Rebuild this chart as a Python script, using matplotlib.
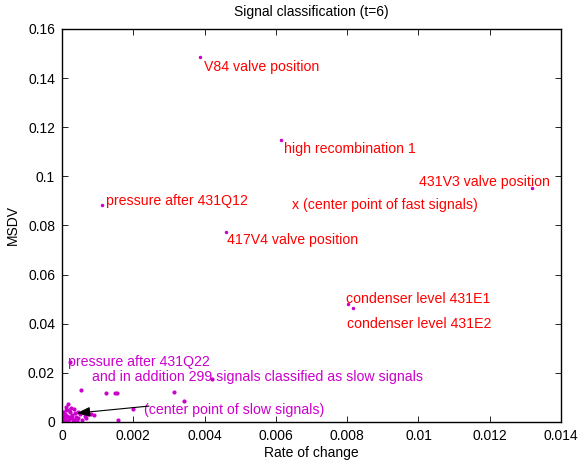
import matplotlib
matplotlib.use("Agg")
import matplotlib.pyplot as plt
from matplotlib.ticker import FuncFormatter

plt.rcParams['font.family'] = ['Liberation Sans', 'DejaVu Sans']

# fast (labelled) signals
fast_x = [0.00387, 0.00615, 0.00113, 0.00459, 0.01318, 0.00803, 0.00816]
fast_y = [0.1485, 0.1148, 0.0884, 0.0775, 0.0954, 0.0479, 0.0464]

# slow signals
slow_x = [0.00022, 0.0042, 0.00053, 0.00123, 0.00149, 0.00154, 0.00315, 0.00343, 0.00200, 0.00158,
          0.000168, 0.000253, 0.000337, 0.000112, 0.000224, 0.000084, 0.000028, 0.000140, 0.000281,
          0.000365, 0.000449, 0.000505, 0.000589, 0.000729, 0.000814, 0.000898, 0.000056, 0.000112,
          0.000196, 0.000281, 0.000393, 0.000028, 0.000168, 0.000337, 0.000449, 0.000645, 0.000673,
          0.0, 0.000084, 0.000224, 0.000309, 0.000421, 0.000561, 0.000112, 0.000196, 0.000028]
slow_y = [0.0245, 0.0174, 0.0130, 0.0117, 0.0119, 0.0119, 0.0121, 0.0086, 0.0053, 0.0008,
          0.00733, 0.00570, 0.00529, 0.00489, 0.00407, 0.00326, 0.00244, 0.00244, 0.00285,
          0.00366, 0.00407, 0.00326, 0.00407, 0.00326, 0.00326, 0.00285, 0.00122, 0.00081,
          0.00122, 0.00163, 0.00204, 0.00041, 0.00041, 0.00081, 0.00163, 0.00244, 0.00163,
          0.00163, 0.00204, 0.00204, 0.00041, 0.00041, 0.00081, 0.00611, 0.00489, 0.00407]

# labels (text, x, y)
red_labels = ["V84 valve position", "high recombination 1", "pressure after 431Q12",
              "417V4 valve position", "431V3 valve position", "x (center point of fast signals)",
              "condenser level 431E1", "condenser level 431E2"]
red_lx = [0.00398, 0.00623, 0.00123, 0.00464, 0.01002, 0.00645, 0.00797, 0.00799]
red_ly = [0.1447, 0.1110, 0.0901, 0.0741, 0.0978, 0.0884, 0.0500, 0.0399]

mag_labels = ["pressure after 431Q22", "and in addition 299 signals classified as slow signals",
              "(center point of slow signals)"]
mag_lx = [0.00018, 0.00084, 0.0023]
mag_ly = [0.0246, 0.0183, 0.0049]

slow_center = (0.00034, 0.0035)
arrow_start = (0.00252, 0.0066)

x_ticks = [0, 0.002, 0.004, 0.006, 0.008, 0.010, 0.012, 0.014]
y_ticks = [0, 0.02, 0.04, 0.06, 0.08, 0.10, 0.12, 0.14, 0.16]

MAG = (0.8, 0.0, 0.8)
RED = (1.0, 0.0, 0.0)

fig = plt.figure(figsize=(5.78, 4.61), dpi=100)
ax = fig.add_axes([0.1073, 0.0846, 0.8633, 0.8525])

ax.plot(fast_x, fast_y, '.', color=MAG, markersize=3)
ax.plot(slow_x, slow_y, '.', color=MAG, markersize=4)

for t, x, y in zip(red_labels, red_lx, red_ly):
    ax.text(x, y, t, color=RED, fontsize=10.2, ha='left', va='center')
for t, x, y in zip(mag_labels, mag_lx, mag_ly):
    ax.text(x, y, t, color=MAG, fontsize=10.2, ha='left', va='center')

ax.annotate('', xy=slow_center, xytext=arrow_start,
            arrowprops=dict(arrowstyle='-|>,head_length=0.8,head_width=0.3', color='black', lw=0.8))

ax.set_xlim(0, 0.014)
ax.set_ylim(0, 0.16)
ax.set_xticks(x_ticks)
ax.set_yticks(y_ticks)
fmt = FuncFormatter(lambda v, p: '%g' % round(v, 6))
ax.xaxis.set_major_formatter(fmt)
ax.yaxis.set_major_formatter(fmt)
ax.tick_params(direction='in', top=True, right=True, length=4, labelsize=10, width=0.6, pad=5)
for s in ax.spines.values():
    s.set_linewidth(1.0)

ax.set_title('Signal classification (t=6)', fontsize=10, pad=9)
ax.set_xlabel('Rate of change', fontsize=10, labelpad=2)
ax.set_ylabel('MSDV', fontsize=10, labelpad=6)

fig.savefig('out.png', dpi=100)
